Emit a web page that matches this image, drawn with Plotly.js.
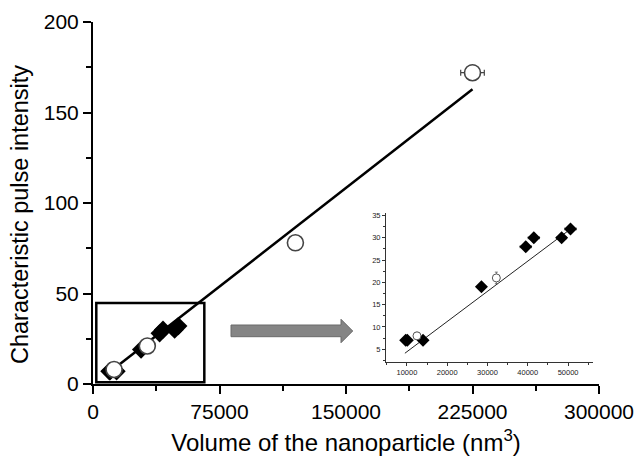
<!DOCTYPE html>
<html>
<head>
<meta charset="utf-8">
<script src="https://cdn.plot.ly/plotly-3.0.1.min.js"></script>
<style>html,body{margin:0;padding:0;background:#fff;}#chart{width:638px;height:456px;}</style>
</head>
<body>
<div id="chart"></div>
<script>
// ---- data ----
const mainTickVals = [0, 75000, 150000, 225000, 300000];
const mainTickText = ["0", "75000", "150000", "225000", "300000"];
const yTickVals = [0, 50, 100, 150, 200];
const yTickText = ["0", "50", "100", "150", "200"];

// filled diamonds (volume nm^3, intensity)
const diamondX = [9700, 10100, 14000, 28500, 39500, 41500, 48400, 50600];
const diamondY = [7, 7, 7, 19, 28, 30, 30, 32];
const diamondErrX = [700, 700, 900, 800, 1400, 1400, 1200, 1400];
const diamondErrY = [0.6, 0.6, 0.6, 0.6, 1.0, 1.0, 0.8, 1.0];

// open circles
const circleX = [12500, 32200, 120000, 225000];
const circleY = [8, 21, 78, 172];
const circleErrX = [700, 600, 1500, 7000];
const circleErrY = [1.0, 1.3, 1.5, 4];

// linear fit (main)
const fitX = [8000, 225000];
const fitY = [5.2, 162.8];

// inset data (subset) and its fit line
const insetDiamondX = diamondX;
const insetDiamondY = diamondY;
const insetCircleX = [12500, 32200];
const insetCircleY = [8, 21];
const insetCircleErrX = [700, 600];
const insetCircleErrY = [0.8, 1.3];
const insetFitX = [9500, 51400];
const insetFitY = [4.1, 32.5];

const insetTickVals = [10000, 20000, 30000, 40000, 50000];
const insetTickText = ["10000", "20000", "30000", "40000", "50000"];
const insetYTickVals = [5, 10, 15, 20, 25, 30, 35];
const insetYTickText = ["5", "10", "15", "20", "25", "30", "35"];

const xTitle = 'Volume of the nanoparticle (nm<sup>3</sup>)';
const yTitle = 'Characteristic pulse intensity';

const FONT = "Arial, 'Liberation Sans', sans-serif";

const traces = [
  {x: fitX, y: fitY, mode: 'lines', line: {color: '#000', width: 2.5}, xaxis: 'x', yaxis: 'y', hoverinfo: 'skip'},
  {x: diamondX, y: diamondY, mode: 'markers', xaxis: 'x', yaxis: 'y',
   marker: {symbol: 'diamond', size: 14, color: '#000'},
   error_x: {type: 'data', array: diamondErrX, color: '#222', thickness: 1, width: 2},
   error_y: {type: 'data', array: diamondErrY, color: '#222', thickness: 1, width: 2}},
  {x: circleX, y: circleY, mode: 'markers', xaxis: 'x', yaxis: 'y',
   marker: {symbol: 'circle', size: 16, color: '#fff', line: {color: '#444', width: 1.6}},
   error_x: {type: 'data', array: circleErrX, color: '#444', thickness: 1.2, width: 3},
   error_y: {type: 'data', array: circleErrY, color: '#444', thickness: 1.2, width: 3}},
  {x: insetFitX, y: insetFitY, mode: 'lines', line: {color: '#222', width: 1}, xaxis: 'x2', yaxis: 'y2', hoverinfo: 'skip'},
  {x: insetDiamondX, y: insetDiamondY, mode: 'markers', xaxis: 'x2', yaxis: 'y2',
   marker: {symbol: 'diamond', size: 10, color: '#000'},
   error_x: {type: 'data', array: diamondErrX, color: '#555', thickness: 0.8, width: 1.5},
   error_y: {type: 'data', array: diamondErrY, color: '#555', thickness: 0.8, width: 1.5}},
  {x: insetCircleX, y: insetCircleY, mode: 'markers', xaxis: 'x2', yaxis: 'y2',
   marker: {symbol: 'circle', size: 8, color: '#fff', line: {color: '#555', width: 1}},
   error_x: {type: 'data', array: insetCircleErrX, color: '#555', thickness: 0.8, width: 1.5},
   error_y: {type: 'data', array: insetCircleErrY, color: '#555', thickness: 0.8, width: 1.5}}
];

const px = v => (v - 93) / 506;
const py = v => (384 - v) / 362;
const arrowPath = 'M ' + px(231) + ' ' + py(325) + ' L ' + px(341) + ' ' + py(325) +
  ' L ' + px(341) + ' ' + py(319.3) + ' L ' + px(352.7) + ' ' + py(331) +
  ' L ' + px(341) + ' ' + py(342.7) + ' L ' + px(341) + ' ' + py(336.7) +
  ' L ' + px(231) + ' ' + py(336.7) + ' Z';

const layout = {
  width: 638, height: 456,
  margin: {l: 93, r: 39, t: 22, b: 72},
  paper_bgcolor: '#fff', plot_bgcolor: '#fff',
  showlegend: false,
  font: {family: FONT, color: '#000'},
  xaxis: {
    range: [0, 300000], tickvals: mainTickVals, ticktext: mainTickText,
    ticks: 'outside', ticklen: 8, tickwidth: 2, tickcolor: '#000',
    showline: true, linewidth: 2, linecolor: '#000', showgrid: false, zeroline: false,
    minor: {tickvals: [37500, 112500, 187500, 262500], ticks: 'outside', ticklen: 5, tickwidth: 2, tickcolor: '#000'},
    tickfont: {size: 21, family: FONT, color: '#000'},
    title: {text: xTitle, font: {size: 24, family: FONT, color: '#000'}, standoff: 18},
    automargin: false
  },
  yaxis: {
    range: [0, 200], tickvals: yTickVals, ticktext: yTickText,
    ticks: 'outside', ticklen: 8, tickwidth: 2, tickcolor: '#000',
    showline: true, linewidth: 2, linecolor: '#000', showgrid: false, zeroline: false,
    minor: {tickvals: [25, 75, 125, 175], ticks: 'outside', ticklen: 5, tickwidth: 2, tickcolor: '#000'},
    tickfont: {size: 21, family: FONT, color: '#000'},
    automargin: false
  },
  xaxis2: {
    domain: [0.579, 0.989], anchor: 'y2', range: [4800, 56300],
    tickvals: insetTickVals, ticktext: insetTickText,
    ticks: 'outside', ticklen: 3, tickwidth: 1, tickcolor: '#333',
    showline: true, linewidth: 1, linecolor: '#333', showgrid: false, zeroline: false,
    minor: {tickvals: [5000, 15000, 25000, 35000, 45000, 55000], ticks: 'outside', ticklen: 2, tickwidth: 1, tickcolor: '#333'},
    tickfont: {size: 7.5, family: FONT, color: '#222'}
  },
  yaxis2: {
    domain: [0.0616, 0.4715], anchor: 'x2', range: [2.2, 35.5],
    tickvals: insetYTickVals, ticktext: insetYTickText,
    ticks: 'outside', ticklen: 3, tickwidth: 1, tickcolor: '#333',
    showline: true, linewidth: 1, linecolor: '#333', showgrid: false, zeroline: false,
    minor: {tickvals: [2.5, 7.5, 12.5, 17.5, 22.5, 27.5, 32.5], ticks: 'outside', ticklen: 2, tickwidth: 1, tickcolor: '#333'},
    tickfont: {size: 7.5, family: FONT, color: '#222'}
  },
  annotations: [
    {text: yTitle, textangle: -90, xref: 'paper', yref: 'paper',
     x: (20 - 93) / 506, y: (384 - 215) / 362, xanchor: 'center', yanchor: 'middle',
     showarrow: false, font: {size: 23.5, family: FONT, color: '#000'}}
  ],
  shapes: [
    {type: 'rect', xref: 'x', yref: 'y', x0: 1950, x1: 66000, y0: 1, y1: 44.7,
     line: {color: '#000', width: 2.5}, fillcolor: 'rgba(0,0,0,0)'},
    {type: 'path', xref: 'paper', yref: 'paper', path: arrowPath,
     fillcolor: '#858585', line: {color: '#6a6a6a', width: 1}}
  ]
};

Plotly.newPlot('chart', traces, layout, {displayModeBar: false, staticPlot: true});
</script>
</body>
</html>
